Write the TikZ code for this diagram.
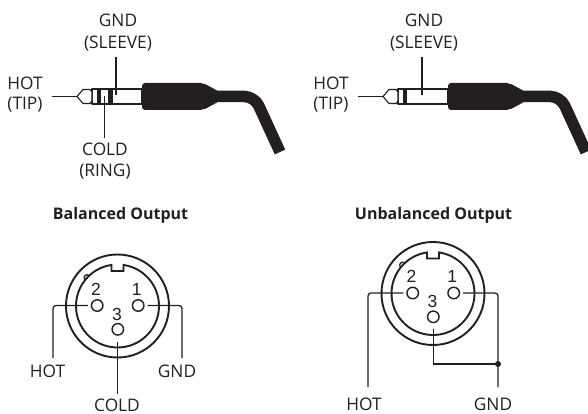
\documentclass[tikz,border=0pt]{standalone}
\usepackage{fontspec}
\setmainfont{Open Sans}
\newfontfamily\pinfont{Liberation Sans}
\usepackage{xcolor}
\usetikzlibrary{positioning,calc}
\definecolor{ink}{HTML}{231F20}

\begin{document}
\begin{tikzpicture}[x=1pt,y=-1pt,
   lbl/.style={anchor=base,inner sep=0pt,text=ink,font=\fontsize{17.3}{19}\selectfont},
   ttl/.style={anchor=base,inner sep=0pt,text=ink,font=\fontsize{16}{19}\selectfont\bfseries},
   num/.style={anchor=base,inner sep=0pt,text=ink,font=\pinfont\fontsize{17.5}{19}\selectfont},
   lead/.style={draw=ink,line width=1.3pt,rounded corners=3pt},
   shell/.style={draw=ink,line width=1.9pt},
   pinhole/.style={circle,draw=ink,line width=1.4pt,minimum size=11.5pt,inner sep=0pt},
   barrel/.style={draw=ink,line width=1.1pt,line join=round},
   grip/.style={fill=ink,rounded corners=3pt},
   cord/.style={draw=ink,line width=11.5pt,rounded corners=10pt}]

 \useasboundingbox (0,0) rectangle (588,414);

 % jack plugs
 \foreach \dx/\n in {0/s,306/m}{
  \begin{scope}[xshift=\dx]
   \draw[cord] (214,96.5) -- (254.5,96.5) -- (280,152);
   \fill[grip] (142,83) rectangle (204,110);
   \fill[ink] (200,84) -- (205,84) -- (217,90.5) -- (217,102.5) -- (205,109) -- (200,109) -- cycle;
   \draw[barrel,fill=white] (92,89) rectangle (142,104);
   \fill[ink] (97,89) rectangle (101,104);
   \draw[barrel,fill=white] (77,96.5) -- (83,89.5) -- (90,89.5) -- (92,92) -- (92,101) -- (90,103.5) -- (83,103.5) -- cycle;
   \coordinate (\n tip) at (77,96.5);
   \coordinate (\n sleeve) at (116,95);
   \node[lbl] (\n gnd) at (118,26.5) {GND};
   \node[lbl] (\n slv) at (118,48.5) {(SLEEVE)};
   \node[lbl] (\n hot) at (25,89.5) {HOT};
   \node[lbl] (\n tp) at (25,110) {(TIP)};
   \draw[lead] (\n tip) -- ++(-25,0);
   \draw[lead] (\n sleeve) -- ++(0,-38);
  \end{scope}}
 \fill[ink] (108,89) rectangle (113,104);
 \coordinate (sring) at (104.5,96.5);
 \node[lbl] (scold) at (105,156) {COLD};
 \node[lbl] (srng) at (105,176.5) {(RING)};
 \draw[lead] (sring) -- ++(0,41.5);

 \node[ttl] (bal) at (120.5,219.3) {Balanced Output};
 \node[ttl] (unbal) at (433.5,219.3) {Unbalanced Output};

 % XLR sockets
 \foreach \dx/\dy/\n in {0/0/b,315.5/-12.5/u}{
  \begin{scope}[shift={(117.5+\dx,306+\dy)}]
   \draw[shell] (0,0) circle (51.5);
   \draw[shell] (-81.7:41.5) arc[start angle=-81.7,end angle=261.7,radius=41.5]
      -- (-6,-35) -- (6,-35) -- cycle;
   \draw[draw=ink,line width=1.3pt] (223:41.5) ++(133:3) arc[start angle=133,end angle=313,radius=3];
   \node[pinhole] (\n2) at (-20.3,-0.5) {};
   \node[pinhole] (\n1) at (20.7,-0.5) {};
   \node[pinhole] (\n3) at (0.3,23.3) {};
   \node[num] at (-21.5,-11) {2};
   \node[num] at (19.2,-11) {1};
   \node[num] at (-0.5,14) {3};
  \end{scope}}

 \coordinate (bhotend) at (53,358);
 \coordinate (bgndend) at (182,358);
 \coordinate (bcoldend) at (117.8,394);
 \draw[lead] ([xshift=-3pt]b2.west) -| (bhotend);
 \draw[lead] ([xshift=3pt]b1.east) -| (bgndend);
 \draw[lead] ([yshift=-6pt]b3.south) -- (bcoldend);
 \node[lbl] (bhot) at (47.5,377.7) {HOT};
 \node[lbl] (bgnd) at (177,377.7) {GND};
 \node[lbl] (bcold) at (117,411.3) {COLD};

 \coordinate (uhotend) at (368,387);
 \coordinate (ugndend) at (498,387);
 \coordinate (ujoin) at (498,364);
 \draw[lead] ([xshift=-3pt]u2.west) -| (uhotend);
 \draw[lead] ([xshift=3pt]u1.east) -| (ugndend);
 \draw[lead,rounded corners=0pt] ([yshift=-6pt]u3.south) |- (ujoin);
 \fill[ink] (ujoin) circle (3);
 \node[lbl] (uhot) at (364,410.5) {HOT};
 \node[lbl] (ugnd) at (493,410.5) {GND};

\end{tikzpicture}
\end{document}
